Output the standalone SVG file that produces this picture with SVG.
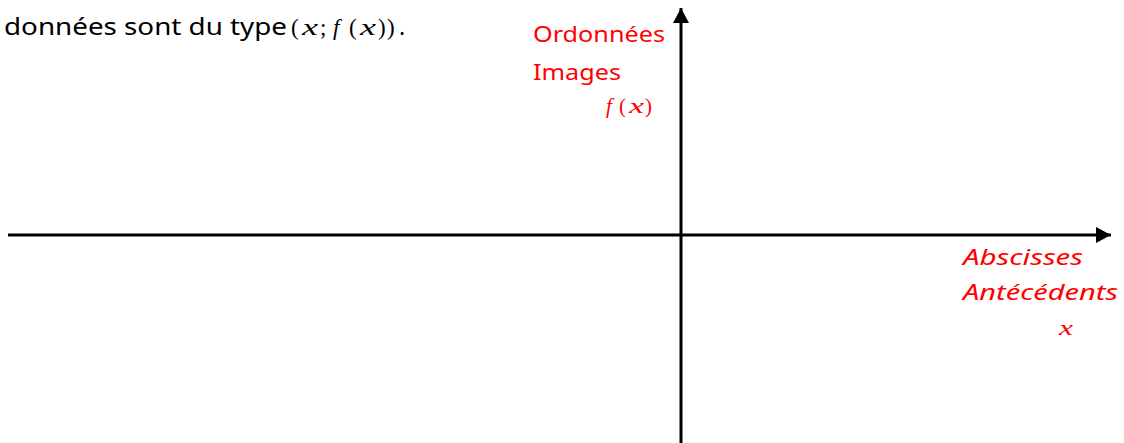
<svg xmlns="http://www.w3.org/2000/svg" width="1124" height="443" viewBox="0 0 1124 443">
<style>
.txt{font-family:"Noto Sans","DejaVu Sans",sans-serif;font-size:23px;fill:#000}
.red{font-family:"Noto Sans","DejaVu Sans",sans-serif;font-size:21px;fill:#ff0000}
.redi{font-family:"Noto Sans","DejaVu Sans",sans-serif;font-size:21px;fill:#ff0000;font-style:italic}
.math{font-family:"Liberation Serif","DejaVu Serif",serif;font-style:italic}
.mathn{font-family:"Liberation Serif","DejaVu Serif",serif;font-style:normal}
.axis{stroke:#000;stroke-width:3;fill:none}
</style>
<defs>
<marker id="arr" markerUnits="userSpaceOnUse" markerWidth="16" markerHeight="18" refX="15" refY="8" orient="auto" viewBox="0 0 16 16">
<path d="M0,0 L15,8 L0,16 Z" fill="#000"/>
</marker>
</defs>
<g id="caption">
<text class="txt" x="4" y="35" textLength="283" lengthAdjust="spacingAndGlyphs">données sont du type</text>
<text class="txt mathn" x="291" y="35" font-size="29">(</text>
<text class="txt math" x="302" y="35" font-size="29" textLength="16" lengthAdjust="spacingAndGlyphs">x</text>
<text class="txt mathn" x="320" y="35" font-size="26">;</text>
<text class="txt math" x="333" y="35" font-size="30">f</text>
<text class="txt mathn" x="349" y="35" font-size="29">(</text>
<text class="txt math" x="360" y="35" font-size="29" textLength="16" lengthAdjust="spacingAndGlyphs">x</text>
<text class="txt mathn" x="378" y="35" font-size="29">)</text>
<text class="txt mathn" x="387" y="35" font-size="29">)</text>
<text class="txt" x="399" y="35">.</text>
</g>
<g id="connectors">
<line class="axis" x1="8" y1="235" x2="1111" y2="235" marker-end="url(#arr)"/>
<line class="axis" x1="681" y1="443" x2="681" y2="8" marker-end="url(#arr)"/>
</g>
<g id="y-label">
<text class="red" x="533" y="42" textLength="132" lengthAdjust="spacingAndGlyphs">Ordonnées</text>
<text class="red" x="533" y="80" textLength="88" lengthAdjust="spacingAndGlyphs">Images</text>
<text class="red math" x="606" y="113" font-size="27">f</text>
<text class="red mathn" x="619" y="113" font-size="26">(</text>
<text class="red math" x="629" y="113" font-size="26" textLength="15" lengthAdjust="spacingAndGlyphs">x</text>
<text class="red mathn" x="645" y="113" font-size="26">)</text>
</g>
<g id="x-label">
<text class="redi" x="963" y="265" textLength="120" lengthAdjust="spacingAndGlyphs">Abscisses</text>
<text class="redi" x="963" y="300" textLength="155" lengthAdjust="spacingAndGlyphs">Antécédents</text>
<text class="red math" x="1059" y="335" font-size="26" textLength="14" lengthAdjust="spacingAndGlyphs">x</text>
</g>
</svg>
